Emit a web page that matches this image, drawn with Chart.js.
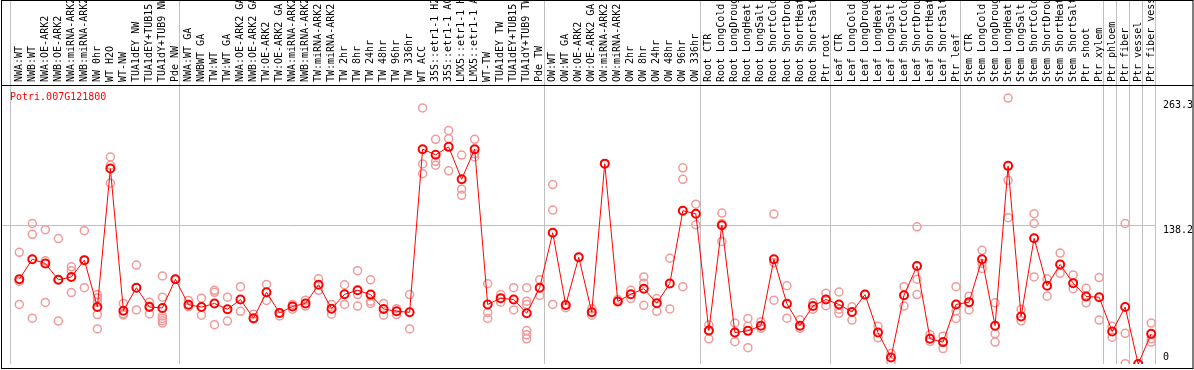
<!DOCTYPE html>
<html>
<head>
<meta charset="utf-8">
<script src="https://cdn.jsdelivr.net/npm/chart.js@4/dist/chart.umd.min.js"></script>
<style>
	html, body { margin: 0; padding: 0; background: #fff; }
	canvas { display: block; }
</style>
</head>
<body>
<canvas id="myChart" width="1194" height="370"></canvas>
<script>
"use strict";

/********/
/* data */
/********/
const geneId = "Potri.007G121800";

const samples = [
	"NWA:WT", "NWB:WT", "NWA:OE-ARK2", "NWB:OE-ARK2", "NWA:miRNA-ARK2", "NWB:miRNA-ARK2",
	"NW 0hr", "WT H2O", "WT-NW", "TUA1dEY NW", "TUA1dEY+TUB15 NW", "TUA1dY+TUB9 NW", "Pde NW",
	"NWA:WT GA", "NWBWT GA", "TW:WT", "TW:WT GA", "NWA:OE-ARK2 GA", "NWB:OE-ARK2 GA",
	"TW:OE-ARK2", "TW:OE-ARK2 GA", "NWA:miRNA-ARK2", "NWB:miRNA-ARK2", "TW:miRNA-ARK2",
	"TW:miRNA-ARK2", "TW 2hr", "TW 8hr", "TW 24hr", "TW 48hr", "TW 96hr", "TW 336hr",
	"WT ACC", "35S::etr1-1 H2O", "35S::etr1-1 ACC", "LMX5::etr1-1 H2O", "LMX5::etr1-1 ACC",
	"WT-TW", "TUA1dEY TW", "TUA1dEY+TUB15 TW", "TUA1dY+TUB9 TW", "Pde TW",
	"OW:WT", "OW:WT GA", "OW:OE-ARK2", "OW:OE-ARK2 GA", "OW:miRNA-ARK2", "OW:miRNA-ARK2",
	"OW 2hr", "OW 8hr", "OW 24hr", "OW 48hr", "OW 96hr", "OW 336hr",
	"Root CTR", "Root LongCold", "Root LongDrought", "Root LongHeat", "Root LongSalt",
	"Root ShortCold", "Root ShortDrought", "Root ShortHeat", "Root ShortSalt", "Ptr root",
	"Leaf CTR", "Leaf LongCold", "Leaf LongDrought", "Leaf LongHeat", "Leaf LongSalt",
	"Leaf ShortCold", "Leaf ShortDrought", "Leaf ShortHeat", "Leaf ShortSalt", "Ptr leaf",
	"Stem CTR", "Stem LongCold", "Stem LongDrought", "Stem LongHeat", "Stem LongSalt",
	"Stem ShortCold", "Stem ShortDrought", "Stem ShortHeat", "Stem ShortSalt",
	"Ptr shoot", "Ptr xylem", "Ptr phloem", "Ptr fiber", "Ptr vessel", "Ptr fiber vessel"
];

// mean expression per sample
const means = [
	84.4, 104.3, 100.1, 83.8, 86.7, 103.4, 56.7, 194.6, 53.1, 76.0, 56.7, 55.8, 84.4,
	59.0, 56.7, 60.3, 54.5, 64.2, 45.6, 71.4, 50.9, 57.3, 60.3, 78.9, 55.1,
	69.4, 73.4, 69.1, 54.8, 52.5, 51.5, 213.9, 208.3, 216.2, 183.9, 213.9,
	59.3, 65.5, 64.2, 50.5, 76.0,
	130.7, 58.7, 106.3, 51.6, 199.5, 62.3, 69.4, 75.0, 60.6, 80.2, 152.6, 149.6,
	33.3, 138.2, 31.3, 33.0, 38.1, 104.3, 60.0, 38.1, 57.7, 64.2,
	59.3, 51.8, 69.1, 31.3, 6.5, 68.5, 97.5, 25.1, 21.8, 59.3,
	61.6, 104.3, 38.1, 197.3, 47.3, 125.2, 77.9, 99.1, 80.5,
	67.2, 66.5, 32.3, 56.7, 0, 30.0
];

// individual replicates per sample
const replicates = [
	[111.2, 82.2, 59.3], [139.9, 129.1, 45.6], [133.7, 102.7, 61.3], [124.9, 42.7, 83.8],
	[96.8, 92.9, 71.1], [132.7, 76.0, 103.4], [69.1, 65.8, 61.6, 49.2, 34.9],
	[206.1, 197.9, 180.0], [60.3, 48.9, 50.0], [98.5, 53.8, 76.0], [61.6, 57.7, 49.9],
	[87.7, 66.5, 47.9, 45.3, 43.0, 40.8], [84.4],
	[63.3, 57.0], [65.5, 48.6], [73.4, 71.4, 39.1], [66.5, 42.7], [77.0, 52.5],
	[49.6, 44.7], [79.2, 63.3], [47.9, 50.9], [59.3, 54.5], [63.6, 57.7], [84.8, 73.4],
	[59.3, 49.6], [78.9, 59.3], [92.9, 69.1, 57.7], [83.8, 62.6, 60.3], [60.3, 48.6],
	[55.1, 49.2], [69.1, 34.9], [255.0, 199.2, 189.5], [223.7, 201.8, 197.9],
	[232.5, 224.3, 192.4], [208.0, 174.1, 167.9], [223.7, 209.3, 206.1],
	[79.9, 51.2, 45.3], [69.1, 61.6], [76.0, 53.8], [76.0, 62.6, 59.3, 33.3, 29.0, 25.1],
	[83.8, 68.2],
	[178.7, 153.3, 59.3], [56.0, 58.7], [106.3], [55.1, 48.6], [199.5], [64.2, 62.3],
	[73.4, 65.2], [86.7, 80.5, 58.4], [65.2, 52.5], [105.3, 54.8], [195.3, 183.9, 77.0],
	[159.1, 138.6],
	[38.8, 25.1, 33.3], [150.3, 139.9, 122.0], [40.8, 22.2], [45.3, 37.5, 16.3],
	[42.1, 35.5], [149.3, 100.7, 63.6], [77.9, 45.6], [44.0, 35.5], [60.9, 54.5],
	[70.4, 58.0],
	[71.7, 54.5, 50.5], [57.0, 43.7], [69.1], [37.5, 26.1], [10.5, 2.2], [77.0, 57.7],
	[136.6, 84.4, 69.1], [29.3, 22.5], [27.7, 15.4], [77.0, 52.8, 45.3],
	[67.5, 60.9, 53.8], [113.2, 100.1, 95.2], [60.9, 30.0, 21.8], [264.8, 182.9, 145.7],
	[54.5, 43.0], [149.6, 139.9, 86.7], [84.8, 67.5], [110.5, 90.3], [88.7, 75.0],
	[75.3, 60.9], [86.1, 43.7], [37.5, 26.7], [139.9, 30.6, 0.3], [0], [40.8, 25.1, 21.8]
];

// y axis tick labels
const yTicks = [0, 138.2, 263.3];

// sample index where each group starts (gray separators)
const groupStarts = [0, 13, 41, 53, 63, 73, 84, 85, 86, 87, 88];

/***********/
/* helpers */
/***********/
const monoFont = "10px 'DejaVu Sans Mono', monospace";

const frame = {
	id: "frame",
	beforeDraw(chart) {
		const ctx = chart.ctx;
		const xs = chart.scales.x;
		const ys = chart.scales.y;
		const step = xs.getPixelForValue(1) - xs.getPixelForValue(0);
		ctx.save();
		ctx.strokeStyle = "#c0c0c0";
		ctx.lineWidth = 1;
		// vertical group separators, through the label band
		groupStarts.forEach(g => {
			const x = Math.round(xs.getPixelForValue(g) - step / 2 - 2.5) + 0.5;
			ctx.beginPath();
			ctx.moveTo(x, 0);
			ctx.lineTo(x, chart.chartArea.bottom);
			ctx.stroke();
		});
		// middle horizontal grid line
		const gy = Math.round(ys.getPixelForValue(yTicks[1])) + 0.5;
		ctx.beginPath();
		ctx.moveTo(1, gy);
		ctx.lineTo(xs.getPixelForValue(88) - step / 2 - 2.5, gy);
		ctx.stroke();
		ctx.restore();
	},
	afterDraw(chart) {
		const ctx = chart.ctx;
		const ys = chart.scales.y;
		const area = chart.chartArea;
		ctx.save();
		// outer box and divider under the labels
		ctx.strokeStyle = "#000";
		ctx.lineWidth = 1;
		ctx.strokeRect(1.5, 0.5, chart.width - 2.5, 368);
		ctx.beginPath();
		ctx.moveTo(1, area.top + 0.5);
		ctx.lineTo(chart.width - 1, area.top + 0.5);
		ctx.stroke();
		// gene id
		ctx.font = monoFont;
		ctx.fillStyle = "#ff0000";
		ctx.textBaseline = "top";
		ctx.fillText(geneId, 10, area.top + 7);
		// y labels on the right
		ctx.fillStyle = "#000";
		yTicks.forEach(v => {
			const y = ys.getPixelForValue(v);
			if (v === 0) {
				ctx.textBaseline = "alphabetic";
				ctx.fillText(String(v), 1163, y - 4);
			} else {
				ctx.textBaseline = "top";
				ctx.fillText(String(v), 1163, y + 0.5);
			}
		});
		ctx.restore();
	}
};

/********/
/* MAIN */
/********/
(function main() {
	// one scatter-like dataset per replicate slot, nulls where a sample has fewer
	const maxReps = Math.max(...replicates.map(r => r.length));
	const repSets = [];
	for (let k = 0; k < maxReps; k++) {
		repSets.push({
			label: "rep " + (k + 1),
			data: replicates.map(r => (k < r.length ? r[k] : null)),
			showLine: false,
			pointRadius: 4,
			pointBorderWidth: 1.5,
			pointBorderColor: "#f09a9a",
			pointBackgroundColor: "rgba(0,0,0,0)"
		});
	}

	const ctx = document.getElementById("myChart").getContext("2d");
	new Chart(ctx, {
		type: "line",
		data: {
			labels: samples,
			datasets: [{
				label: "mean",
				data: means,
				borderColor: "#ff0000",
				borderWidth: 1,
				tension: 0,
				pointRadius: 4,
				pointBorderWidth: 2,
				pointBorderColor: "#ff0000",
				pointBackgroundColor: "rgba(0,0,0,0)"
			}].concat(repSets)
		},
		options: {
			responsive: false,
			animation: false,
			devicePixelRatio: 1,
			layout: { padding: { left: 12.8, right: 36.3, top: 0, bottom: 1 } },
			plugins: {
				legend: { display: false },
				tooltip: { enabled: false }
			},
			scales: {
				x: {
					position: "top",
					offset: true,
					grid: { display: false, drawTicks: false },
					border: { display: false },
					ticks: {
						autoSkip: false,
						minRotation: 90,
						maxRotation: 90,
						padding: 3,
						labelOffset: 12,
						color: "#000",
						font: { family: "'DejaVu Sans Mono', monospace", size: 10 }
					},
					afterFit: scale => { scale.height = 85; }
				},
				y: {
					display: false,
					min: 0,
					max: 277.8
				}
			}
		},
		plugins: [frame]
	});
})();
</script>
</body>
</html>
